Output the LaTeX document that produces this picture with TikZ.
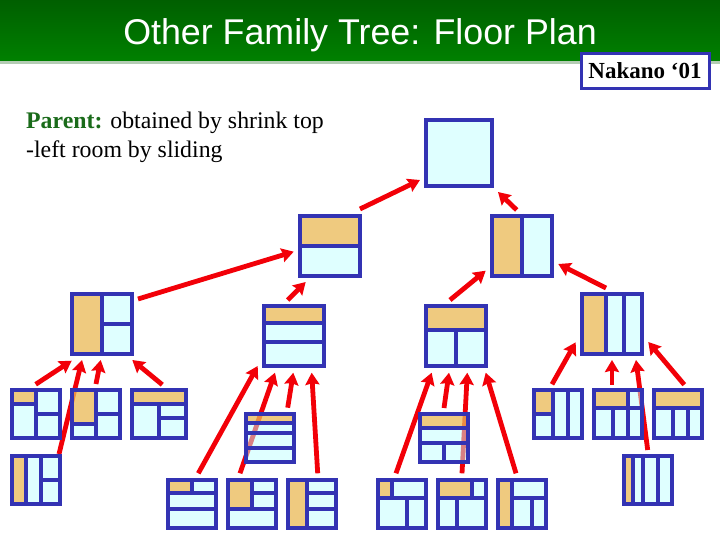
\documentclass[tikz,border=0pt]{standalone}
\usepackage{fontspec}
\setmainfont{Liberation Serif}
\newfontfamily\titlefont{Liberation Sans}
\usetikzlibrary{arrows.meta,calc}
\pgfdeclarelayer{pagelayer}
\pgfdeclarelayer{arrowlayer}
\pgfdeclarelayer{filllayer}
\pgfsetlayers{pagelayer,arrowlayer,filllayer,main}
\definecolor{wallblue}{HTML}{3333B3}
\definecolor{roomcyan}{HTML}{C1FFFF}
\definecolor{roomorange}{HTML}{FF9701}
\definecolor{arrowred}{HTML}{F20008}
\definecolor{bandtop}{HTML}{005F00}
\definecolor{bandbot}{HTML}{008000}
\definecolor{bandshadow}{HTML}{B4CCB4}
\definecolor{parentgreen}{HTML}{1A6B1A}
\tikzset{
  plan/.style={draw=wallblue,line width=3.7pt,inner sep=0pt,outer sep=0pt,fill=none},
  wall/.style={draw=wallblue,line width=3.7pt},
  cyanroom/.style={fill=roomcyan,fill opacity=.5},
  orangeroom/.style={fill=roomorange,fill opacity=.5},
  arw/.style={draw=arrowred,line width=4.8pt,-{Stealth[length=12pt,width=14pt,inset=1.5pt]}},
}
% name, x1, y1, x2, y2 (outer edges)
\newcommand{\planbox}[5]{%
  \node[plan,minimum width={#4-#2-3.7pt},minimum height={#5-#3-3.7pt}] (#1) at ({(#2+#4)/2},{(#3+#5)/2}) {};
  \begin{pgfonlayer}{filllayer}
    \path[cyanroom] (#2,#3) rectangle (#4,#5);
  \end{pgfonlayer}}
\newcommand{\orng}[4]{\begin{pgfonlayer}{filllayer}\path[orangeroom] (#1,#2) rectangle (#3,#4);\end{pgfonlayer}}
\newcommand{\hw}[3]{\draw[wall] (#1,#3) -- (#2,#3);}
\newcommand{\vw}[3]{\draw[wall] (#1,#2) -- (#1,#3);}
% id, child tail x,y, head x,y
\newcommand{\conn}[5]{%
  \coordinate (tail#1) at (#2,#3);
  \coordinate (head#1) at (#4,#5);
  \begin{pgfonlayer}{arrowlayer}\draw[arw] (tail#1) -- (head#1);\end{pgfonlayer}}
\begin{document}
\begin{tikzpicture}[x=1pt,y=-1pt]
\useasboundingbox (0,0) rectangle (720,540);
\begin{pgfonlayer}{pagelayer}
\fill[white] (0,0) rectangle (720,540);
\end{pgfonlayer}
% title band
\fill[bandshadow] (0,60) rectangle (720,64);
\shade[top color=bandtop,bottom color=bandbot] (0,0) rectangle (720,60.5);
\node[anchor=base,inner sep=0pt,text=white] (title) at (360,44.5) {\titlefont\fontsize{35.8pt}{38pt}\selectfont Other Family Tree: Floor Plan};
% citation
\node[draw=wallblue,line width=3pt,fill=white,inner sep=0pt,outer sep=0pt,minimum width=128pt,minimum height=35pt] (cite) at (645.5,71) {};
\node[anchor=base,inner sep=0pt] (citetext) at (645,79) {\fontsize{23pt}{26pt}\selectfont\bfseries Nakano ‘01};
% caption
\node[anchor=base west,inner sep=0pt] (cap1) at (26,129) {\fontsize{23.8pt}{28pt}\selectfont\textcolor{parentgreen}{\bfseries Parent:} obtained by shrink top};
\node[anchor=base west,inner sep=0pt] (cap2) at (26,158) {\fontsize{23.8pt}{28pt}\selectfont -left room by sliding};

% level 0
\planbox{root}{424}{118}{494}{188}
% level 1
\planbox{L}{298}{214}{362}{278}\orng{298}{214}{362}{245.7}\hw{298}{362}{245.7}
\planbox{R}{490}{214}{554}{278}\orng{490}{214}{522}{278}\vw{522}{214}{278}
% level 2
\planbox{A}{70}{292}{134}{356}\orng{70}{292}{102}{356}\vw{102}{292}{356}\hw{102}{134}{323.7}
\planbox{B}{262}{304}{326}{368}\orng{262}{304}{326}{323.3}\hw{262}{326}{323.3}\hw{262}{326}{341.7}
\planbox{C}{424}{304}{488}{368}\orng{424}{304}{488}{329.7}\hw{424}{488}{329.7}\vw{456}{329.7}{368}
\planbox{D}{580}{292}{644}{356}\orng{580}{292}{605.7}{356}\vw{605.7}{292}{356}\vw{624}{292}{356}
% level 3: A
\planbox{Aa}{10}{388}{62}{440}\orng{10}{388}{36}{404}\vw{36}{388}{440}\hw{10}{36}{404}\hw{36}{62}{414}
\planbox{Ab}{70}{388}{122}{440}\orng{70}{388}{96}{424}\vw{96}{388}{440}\hw{70}{96}{424}\hw{96}{122}{414}
\planbox{Ac}{130}{388}{188}{440}\orng{130}{388}{188}{403.7}\hw{130}{188}{403.7}\vw{159}{403.7}{440}\hw{159}{188}{418}
\planbox{Ad}{10}{454}{62}{506}\orng{10}{454}{26}{506}\vw{26}{454}{506}\vw{40.7}{454}{506}\hw{40.7}{62}{480}
% level 3: B
\planbox{Ba}{244}{412}{296}{464}\orng{244}{412}{296}{423.3}\hw{244}{296}{423.3}\hw{244}{296}{432.7}\hw{244}{296}{447.7}
\planbox{Bb}{166}{478}{218}{530}\orng{166}{478}{192}{493.3}\hw{166}{218}{493.3}\hw{166}{218}{508.7}\vw{192}{478}{493.3}
\planbox{Bc}{226}{478}{278}{530}\orng{226}{478}{252}{508.7}\vw{252}{478}{508.7}\hw{252}{278}{493.3}\hw{226}{278}{508.7}
\planbox{Bd}{286}{478}{338}{530}\orng{286}{478}{307}{530}\vw{307}{478}{530}\hw{307}{338}{493.3}\hw{307}{338}{508.7}
% level 3: C
\planbox{Ca}{418}{412}{470}{464}\orng{418}{412}{470}{427.7}\hw{418}{470}{427.7}\hw{418}{470}{442.7}\vw{444}{442.7}{464}
\planbox{Cb}{376}{478}{428}{530}\orng{376}{478}{391.7}{498.3}\hw{376}{428}{498.3}\vw{391.7}{478}{498.3}\vw{407}{498.3}{530}
\planbox{Cc}{436}{478}{488}{530}\orng{436}{478}{472}{498.3}\hw{436}{488}{498.3}\vw{472}{478}{498.3}\vw{456.7}{498.3}{530}
\planbox{Cd}{496}{478}{548}{530}\orng{496}{478}{511.7}{530}\vw{511.7}{478}{530}\hw{511.7}{548}{498.3}\vw{531.7}{498.3}{530}
% level 3: D
\planbox{Da}{532}{388}{584}{440}\orng{532}{388}{553}{413.7}\vw{553}{388}{440}\vw{568}{388}{440}\hw{532}{553}{413.7}
\planbox{Db}{592}{388}{644}{440}\orng{592}{388}{628}{408.3}\hw{592}{644}{408.3}\vw{628}{388}{440}\vw{613}{408.3}{440}
\planbox{Dc}{652}{388}{704}{440}\orng{652}{388}{704}{408.3}\hw{652}{704}{408.3}\vw{673}{408.3}{440}\vw{688}{408.3}{440}
\planbox{Dd}{622}{454}{674}{506}\orng{622}{454}{633.3}{506}\vw{633.3}{454}{506}\vw{642.7}{454}{506}\vw{658}{454}{506}

% connectors
\conn{L}{360}{209}{420}{180}
\conn{R}{516.7}{210}{498}{192}
\conn{A}{138}{299}{293.7}{251.7}
\conn{B}{287.7}{300}{305.7}{282}
\conn{C}{450}{300}{485.7}{270.7}
\conn{D}{606}{288}{558.3}{264}
\conn{Aa}{35.7}{384.3}{71.7}{360.7}
\conn{Ad}{59}{454}{82}{360}
\conn{Ab}{96}{384}{100.7}{360}
\conn{Ac}{162.3}{384.7}{132.3}{360}
\conn{Bb}{198.3}{473.3}{257.7}{366}
\conn{Bc}{240}{473.3}{275}{372.7}
\conn{Ba}{287.7}{407.7}{293.3}{372.7}
\conn{Bd}{317.7}{473.3}{311.7}{372.7}
\conn{Cb}{396}{473.3}{431.7}{372.7}
\conn{Ca}{444}{408}{449}{372.7}
\conn{Cc}{462}{473.3}{467.3}{372.7}
\conn{Cd}{516}{473.3}{485.7}{372.7}
\conn{Da}{552}{384.3}{575.7}{342.3}
\conn{Db}{612}{384.7}{612}{360}
\conn{Dd}{647.7}{450}{636}{360}
\conn{Dc}{684.3}{384.7}{648.3}{342}
\end{tikzpicture}
\end{document}
